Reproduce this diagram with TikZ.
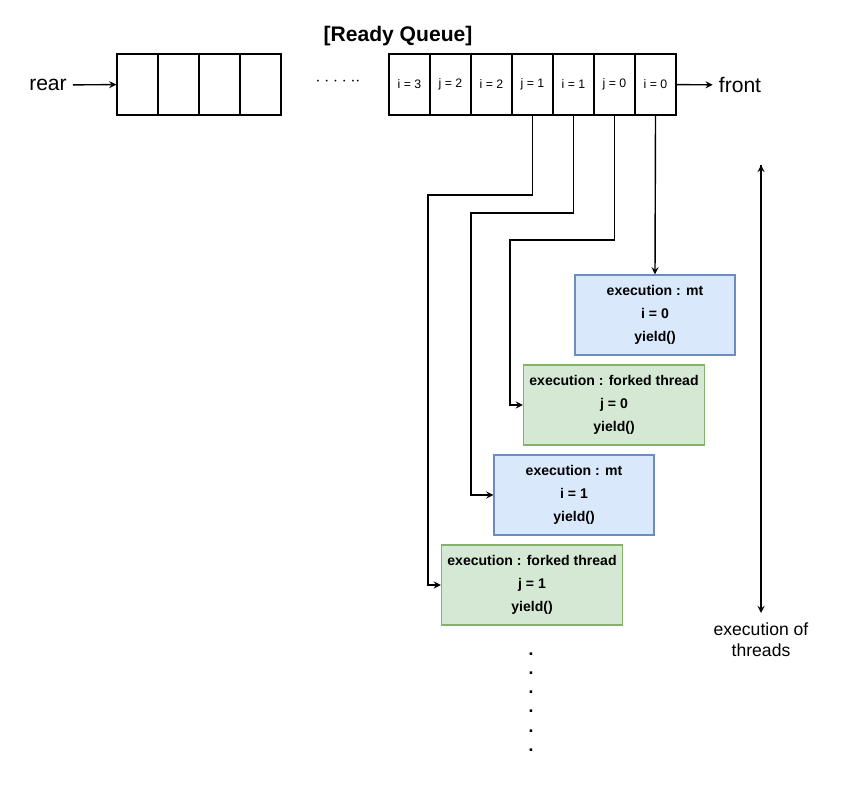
\documentclass[tikz,border=0pt]{standalone}
\usepackage{fontspec}
\setmainfont{Liberation Sans}
\usetikzlibrary{positioning}
\definecolor{mtfill}{HTML}{DAE8FC}
\definecolor{mtdraw}{HTML}{6C8EBF}
\definecolor{ftfill}{HTML}{D5E8D4}
\definecolor{ftdraw}{HTML}{82B366}
\begin{document}
\begin{tikzpicture}[x=0.02cm, y=-0.02cm,
  cell/.style={rectangle, draw, thick, minimum width=0.82cm, minimum height=1.22cm, inner sep=0pt, font=\fontsize{7}{8}\selectfont},
  mt/.style={rectangle, draw=mtdraw, fill=mtfill, thick, minimum width=3.2cm, minimum height=1.6cm, align=center, font=\bfseries\fontsize{8}{13}\selectfont},
  ft/.style={rectangle, draw=ftdraw, fill=ftfill, thick, minimum width=3.4cm, minimum height=1.6cm, align=center, font=\bfseries\fontsize{8}{13}\selectfont}]
\useasboundingbox (0,0) rectangle (851,811);
% rear part of the queue
\foreach \n in {1,...,4}
  \node[cell] (r\n) at ({117+41*(\n-1)+20.5},84.5) {};
% front part of the queue
\foreach \t [count=\n] in {i = 3, j = 2, i = 2, j = 1, i = 1, j = 0, i = 0}
  \node[cell] (q\n) at ({389+41*(\n-1)+20.5},84.5) {\t};
\node[font=\bfseries\large] (title) at (398,36) {[Ready Queue]};
\node[font=\large] (rear) at (48,85) {rear};
\node[font=\large] (front) at (740,85) {front};
\node (dots) at (338,82) {$\cdot\cdot\cdot\cdot\cdot\cdot$};

\node[mt] (b1) at (655,315) {execution : mt\\ i = 0\\ yield()};
\node[ft] (b2) at (614,405) {execution : forked thread\\ j = 0\\ yield()};
\node[mt] (b3) at (574,495) {execution : mt\\ i = 1\\ yield()};
\node[ft] (b4) at (532,585) {execution : forked thread\\ j = 1\\ yield()};

\coordinate (tstart) at (761,165);
\coordinate (tend) at (761,613);
\node[align=center] (threads) at (761,640) {execution of\\ threads};
\node[align=center, font=\bfseries, inner sep=0pt] (more) at (531,702) {.\\[-1pt].\\[-1pt].\\[-1pt].\\[-1pt].\\[-1pt].};

\draw[-stealth, thick]
(rear) edge (r1)
(q7) edge (front)
(q7.south) edge (b1.north)
(tstart) edge (tend)
;
\draw[-stealth, thick] (q6.south) |- (510,240) |- (b2.west);
\draw[-stealth, thick] (q5.south) |- (471,213) |- (b3.west);
\draw[-stealth, thick] (q4.south) |- (428,195) |- (b4.west);
\end{tikzpicture}
\end{document}
